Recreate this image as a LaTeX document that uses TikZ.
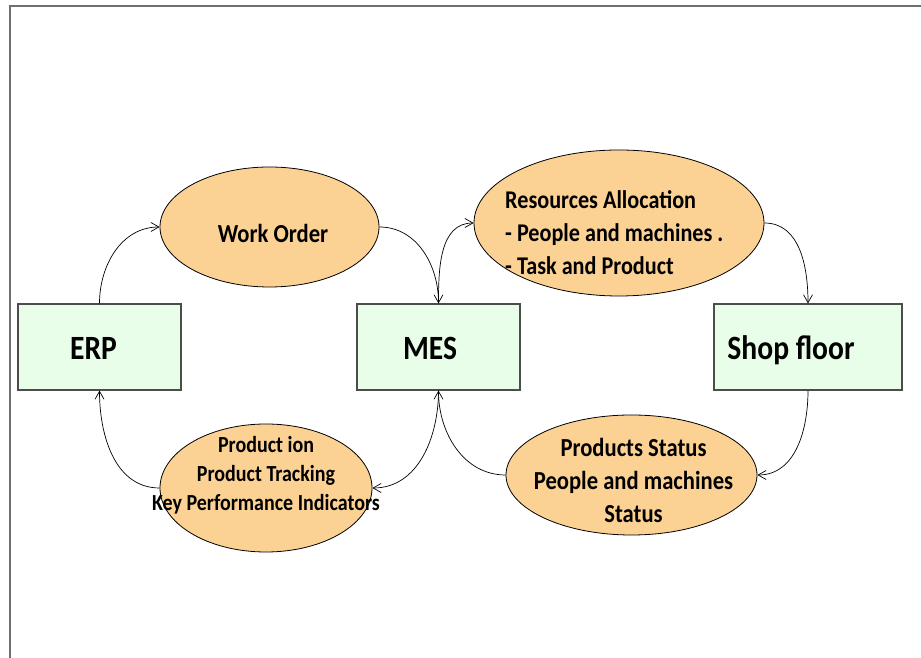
\documentclass[tikz,border=0pt]{standalone}
\usepackage{fontspec}
\setmainfont{Carlito}[FakeStretch=0.87]
\usepackage{tikz}
\usetikzlibrary{shapes}
\usetikzlibrary{arrows.meta}
\definecolor{boxgreen}{RGB}{233,254,233}
\definecolor{ovalorange}{RGB}{252,210,148}
\definecolor{framegray}{RGB}{112,112,112}

\begin{document}
\begin{tikzpicture}[x=1pt,y=1pt,
    sysbox/.style={draw=black!70,line width=1.2pt,fill=boxgreen,minimum width=163,minimum height=86,inner sep=0},
    oval/.style={draw=black,line width=0.8pt,ellipse,fill=ovalorange,inner sep=0},
    boxtext/.style={font=\fontsize{34}{40}\selectfont\bfseries,inner sep=0},
    ovaltext/.style={align=center,inner sep=0},
    flow/.style={line width=0.7pt,-{Straight Barb[length=8pt,width=9pt]}}]
    \useasboundingbox (0,0) rectangle (921,658);
    \draw[framegray,line width=1.6pt] (10,0) -- (10,652) -- (921,652);
    \node[sysbox] (erp) at (99.5,311) {};
    \node[sysbox] (mes) at (438.5,311) {};
    \node[sysbox,minimum width=188] (shop) at (808,311) {};
    \node[oval,minimum width=219,minimum height=120] (order) at (269.5,431) {};
    \node[oval,minimum width=290,minimum height=146] (alloc) at (619,435) {};
    \node[oval,minimum width=212,minimum height=128] (prod) at (266,170) {};
    \node[oval,minimum width=251,minimum height=120] (status) at (631.5,183) {};
    \node[boxtext] (erptxt) at (93.5,310) {ERP};
    \node[boxtext] (mestxt) at (430,310) {MES};
    \node[boxtext] (shoptxt) at (791,308) {Shop floor};
    \node[ovaltext,font=\fontsize{26}{33}\selectfont\bfseries] (ordertxt) at (273,425) {Work Order};
    \node[ovaltext,align=left,anchor=west,font=\fontsize{25.5}{33}\selectfont\bfseries] (alloctxt) at (505,425)
        {Resources Allocation\\- People and machines .\\- Task and Product};
    \node[ovaltext,font=\fontsize{23}{29}\selectfont\bfseries] (prodtxt) at (266,183)
        {Product ion\\Product Tracking\\Key Performance Indicators};
    \node[ovaltext,font=\fontsize{26}{33}\selectfont\bfseries] (statustxt) at (633.5,178)
        {Products Status\\People and machines\\Status};
    \draw[flow] (erp.north) to[out=90,in=180] (order.west);
    \draw[flow] (order.east) to[out=0,in=90] (mes.north);
    \draw[flow] (mes.north) to[out=90,in=180] (alloc.west);
    \draw[flow] (alloc.east) to[out=0,in=90] (shop.north);
    \draw[flow] (shop.south) to[out=-90,in=0] (status.east);
    \draw[flow] (status.west) to[out=180,in=-90] (mes.south);
    \draw[flow] (mes.south) to[out=-90,in=0] (prod.east);
    \draw[flow] (prod.west) to[out=180,in=-90] (erp.south);
\end{tikzpicture}
\end{document}
